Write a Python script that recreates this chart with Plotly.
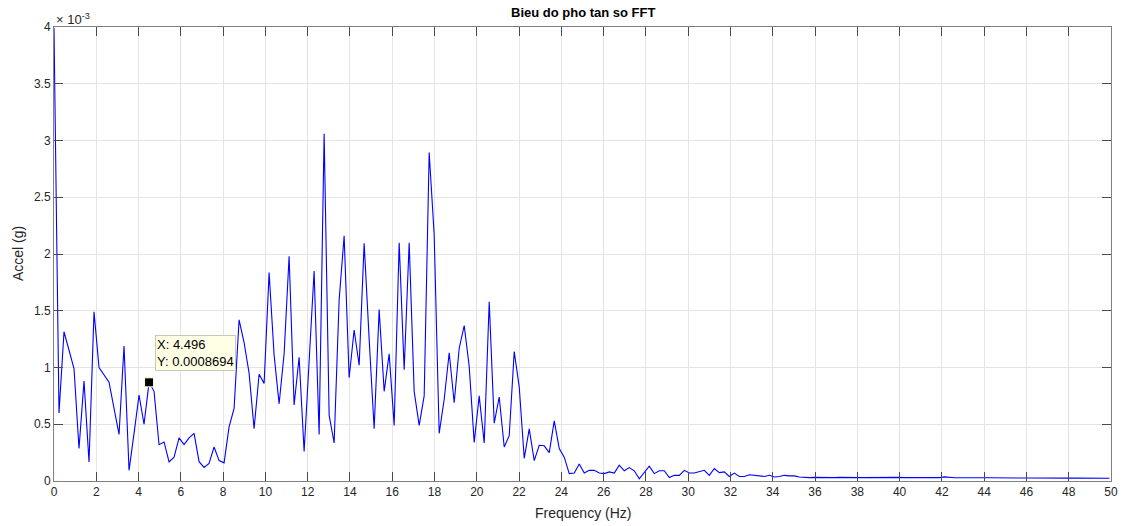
import numpy as np
import plotly.graph_objects as go

# Frequency resolution (from the data tip: X = 4.496 at bin 19)
df = 4.496 / 19

# FFT amplitude, in units of 1e-3 g (bins 0..)
accel_e3 = [
    3.99, 0.60, 1.315, 1.15, 0.99, 0.286, 0.88, 0.168, 1.49, 1.00,
    0.94, 0.87, 0.64, 0.41, 1.19, 0.094, 0.42, 0.756, 0.50, 0.8694,
    0.79, 0.32, 0.344, 0.168, 0.21, 0.38, 0.32, 0.38, 0.42, 0.17,
    0.12, 0.155, 0.30, 0.18, 0.16, 0.477, 0.64, 1.42, 1.22, 0.95,
    0.46, 0.94, 0.86, 1.836, 1.11, 0.68, 1.12, 1.98, 0.67, 1.09,
    0.26, 1.0, 1.85, 0.41, 3.06, 0.58, 0.335, 1.595, 2.16, 0.91,
    1.33, 1.02, 2.095, 1.25, 0.46, 1.51, 0.79, 1.12, 0.49, 2.10,
    0.98, 2.10, 0.79, 0.49, 0.75, 2.895, 2.17, 0.42, 0.72, 1.13,
    0.69, 1.17, 1.37, 1.01, 0.34, 0.75, 0.335, 1.58, 0.51, 0.74,
    0.30, 0.40, 1.14, 0.83, 0.20, 0.46, 0.18, 0.315, 0.31, 0.25,
    0.53, 0.285, 0.21, 0.065, 0.07, 0.15, 0.07, 0.094, 0.094, 0.07,
    0.065, 0.08, 0.07, 0.14, 0.09, 0.118, 0.09, 0.02, 0.08, 0.13,
    0.065, 0.09, 0.09, 0.03, 0.05, 0.05, 0.094, 0.07, 0.07, 0.08,
    0.094, 0.05, 0.11, 0.074, 0.08, 0.04, 0.07, 0.04, 0.04, 0.055,
    0.05, 0.04, 0.04, 0.05,
    0.035, 0.04, 0.05, 0.045, 0.045, 0.035, 0.03, 0.03, 0.032, 0.03,
    0.031, 0.03, 0.03, 0.032, 0.03, 0.03, 0.029, 0.03, 0.03, 0.031,
    0.03, 0.028, 0.03, 0.029, 0.03, 0.032, 0.03, 0.03, 0.031, 0.029,
    0.03, 0.029, 0.028, 0.03, 0.036, 0.03, 0.028, 0.029, 0.03, 0.029,
    0.028, 0.028, 0.029, 0.028, 0.027, 0.028, 0.027, 0.028, 0.027, 0.027,
    0.026, 0.027, 0.026, 0.026, 0.027, 0.026, 0.026, 0.025, 0.026, 0.025,
    0.025, 0.025, 0.026, 0.025, 0.025, 0.024, 0.025, 0.024,
]

tip_x = 4.496
tip_y = 0.0008694

x_ticks = list(range(0, 51, 2))
y_ticks = [0, 0.5, 1, 1.5, 2, 2.5, 3, 3.5, 4]
y_tick_labels = ["0", "0.5", "1", "1.5", "2", "2.5", "3", "3.5", "4"]

freq = np.arange(len(accel_e3)) * df
accel = np.array(accel_e3) * 1e-3

FONT = "Liberation Sans, Arial, Helvetica, sans-serif"
TXT = "#262626"

fig = go.Figure()
fig.add_trace(go.Scatter(
    x=freq, y=accel, mode="lines",
    line=dict(color="#0000ff", width=1.1),
    showlegend=False, hoverinfo="x+y",
))
fig.add_trace(go.Scatter(
    x=[tip_x], y=[tip_y], mode="markers",
    marker=dict(symbol="square", size=9, color="black",
                line=dict(color="#ffffe0", width=1)),
    showlegend=False, hoverinfo="skip",
))

axis_common = dict(
    showline=True, linecolor="#808080", linewidth=1, mirror="ticks",
    ticks="inside", ticklen=9, tickcolor="#4a4a4a", tickwidth=1,
    showgrid=True, gridcolor="#e4e4e4", gridwidth=1, zeroline=False,
    tickfont=dict(family=FONT, size=12, color=TXT), automargin=False,
)

fig.update_xaxes(range=[0, 50], tickvals=x_ticks, **axis_common)
fig.update_yaxes(
    range=[0, 0.004], tickvals=[v * 1e-3 for v in y_ticks], ticktext=y_tick_labels,
    **axis_common,
)

# axis titles
fig.add_annotation(
    x=0.5, y=0, xref="paper", yref="paper", text="Frequency (Hz)",
    showarrow=False, xanchor="center", yanchor="top", yshift=-22,
    font=dict(family=FONT, size=14, color=TXT),
)
fig.add_annotation(
    x=0, y=0.5, xref="paper", yref="paper", text="Accel (g)",
    showarrow=False, xanchor="right", yanchor="middle", xshift=-26, textangle=-90,
    font=dict(family=FONT, size=14, color=TXT),
)

fig.add_annotation(
    x=tip_x, y=tip_y, xref="x", yref="y",
    text="X: 4.496<br>Y: 0.0008694", showarrow=False,
    xanchor="left", yanchor="bottom", xshift=6, yshift=11, align="left",
    font=dict(family=FONT, size=13, color="black"),
    bgcolor="#ffffe6", bordercolor="#c8c8b4", borderwidth=1, borderpad=1,
)
fig.add_annotation(
    x=0, y=1, xref="paper", yref="paper",
    text="\u00d7 10<sup>-3</sup>", showarrow=False,
    xanchor="left", yanchor="bottom", yshift=-2,
    font=dict(family=FONT, size=13, color=TXT),
)
fig.add_annotation(
    x=0.5, y=1, xref="paper", yref="paper",
    text="<b>Bieu do pho tan so FFT</b>", showarrow=False,
    xanchor="center", yanchor="bottom", yshift=5,
    font=dict(family=FONT, size=13, color="black"),
)

fig.update_layout(
    width=1125, height=526,
    margin=dict(l=54, r=14, t=27, b=45),
    paper_bgcolor="white", plot_bgcolor="white",
    font=dict(family=FONT, color=TXT),
)

# remove the browser's default 8 px body margin so the figure fills the window
fig.write_html(
    "out.html",
    config={"displayModeBar": False},
    post_script="document.body.style.margin='0';document.body.style.overflow='hidden';",
)
